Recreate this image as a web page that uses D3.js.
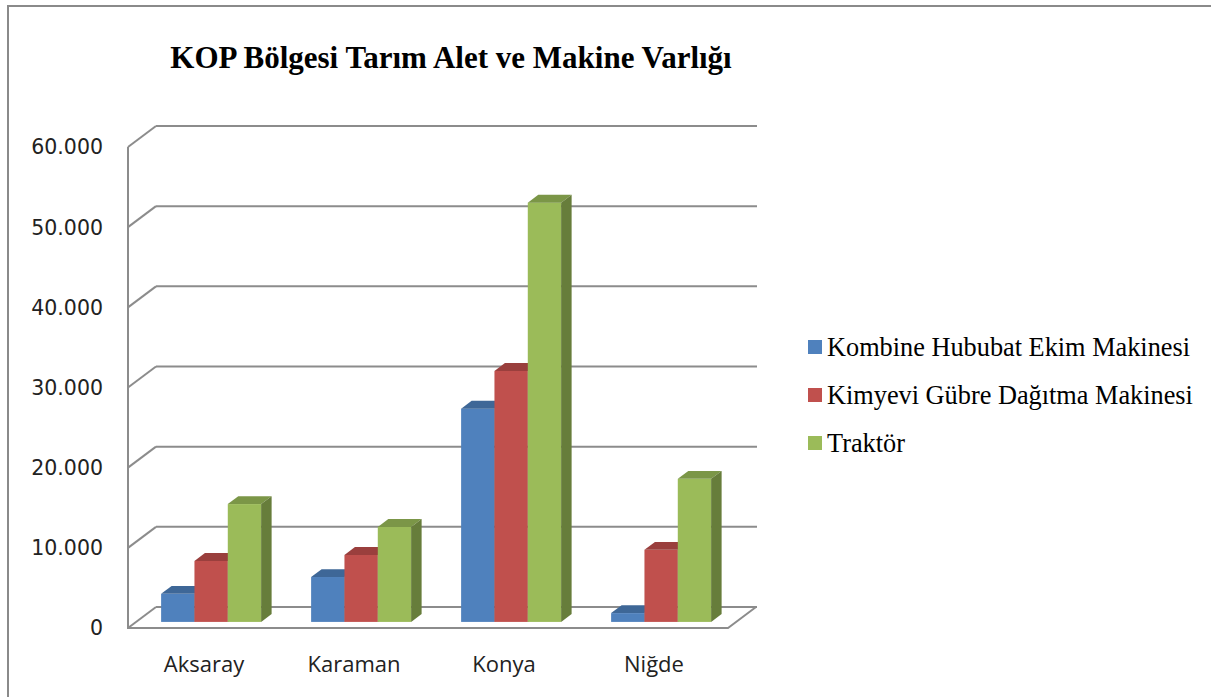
<!DOCTYPE html>
<html><head><meta charset="utf-8">
<script src="https://cdn.jsdelivr.net/npm/d3@7/dist/d3.min.js"></script>
<style>html,body{margin:0;padding:0;background:#fff;}svg{display:block;}</style>
</head><body>
<script>
const categories = ["Aksaray", "Karaman", "Konya", "Niğde"];
const seriesNames = ["Kombine Hububat Ekim Makinesi", "Kimyevi Gübre Dağıtma Makinesi", "Traktör"];
const kombine = [3500, 5600, 26600, 1100];
const kimyevi = [7600, 8350, 31300, 9000];
const traktor = [14700, 11850, 52300, 17850];
const yTicks = [0, 10000, 20000, 30000, 40000, 50000, 60000];
const title = "KOP Bölgesi Tarım Alet ve Makine Varlığı";

const series = [kombine, kimyevi, traktor];
const front = ["#4F81BD", "#C0504D", "#9BBB59"];
const topC = ["#3E6797", "#9A3F3D", "#7B9647"];
const sideC = ["#365a85", "#853634", "#677D3B"];

const W = 1211, H = 697;
const svg = d3.select("body").append("svg").attr("width", W).attr("height", H);

svg.append("path").attr("d", `M8,${H+2} L8,6 L${W+2},6`).attr("fill","none").attr("stroke","#8a8a8a").attr("stroke-width",2);

svg.append("text").attr("x", 451).attr("y", 68).attr("text-anchor","middle")
  .attr("font-family","'Liberation Serif', 'Times New Roman', serif").attr("font-weight","bold")
  .attr("font-size", 31).attr("fill","#000").text(title);

const x0 = 128, x1 = 728;
const depth = [28, -21];
const y = d3.scaleLinear().domain([0, 60000]).range([628, 147]);
const xb = d3.scaleBand().domain(categories).range([x0, x1]).paddingInner(1/3).paddingOuter(1/6);
const xs = d3.scaleBand().domain(d3.range(series.length)).range([0, xb.bandwidth()]);

const grid = "#8c8c8c";
const g = svg.append("g");
yTicks.forEach(t => {
  const yy = y(t);
  g.append("line").attr("x1", x0).attr("y1", yy).attr("x2", x0+depth[0]).attr("y2", yy+depth[1])
    .attr("stroke", grid).attr("stroke-width", 2);
  g.append("line").attr("x1", x0+depth[0]).attr("y1", yy+depth[1]).attr("x2", x1+depth[0]+1).attr("y2", yy+depth[1])
    .attr("stroke", grid).attr("stroke-width", 2);
});
g.append("line").attr("x1", x0).attr("y1", y(60000)).attr("x2", x0).attr("y2", y(0)+1).attr("stroke", grid).attr("stroke-width", 2);
g.append("path").attr("d", `M${x0},${y(0)} L${x1},${y(0)} L${x1+depth[0]},${y(0)+depth[1]}`)
  .attr("fill","none").attr("stroke", grid).attr("stroke-width", 2);

svg.append("g").selectAll("text").data(yTicks).join("text")
  .attr("x", 103).attr("y", d => y(d)).attr("dy", "0.36em").attr("text-anchor","end")
  .attr("font-family", "'DejaVu Sans', sans-serif").attr("font-size", 20.5).attr("fill","#222")
  .text(d => d3.format(",")(d).replace(/,/g, "."));

svg.append("g").selectAll("text").data(categories).join("text")
  .attr("x", d => xb(d) + xb.bandwidth()/2 + 1).attr("y", 672).attr("text-anchor","middle")
  .attr("font-family", "'Open Sans', sans-serif").attr("font-size", 22).attr("fill","#222").text(d => d);

const f1 = 0.29, f2 = 0.665;
const off = [depth[0]*f1, depth[1]*f1];
const dd = [depth[0]*(f2-f1), depth[1]*(f2-f1)];
const bars = svg.append("g");
categories.forEach((c, i) => {
  series.forEach((s, k) => {
    const v = s[i];
    const xl = xb(c) + xs(k) + off[0];
    const xr = xl + xs.bandwidth();
    const yb = y(0) + off[1];
    const yt = y(v) + off[1];
    bars.append("rect").attr("x", xl).attr("y", yt).attr("width", xr - xl).attr("height", yb - yt).attr("fill", front[k]);
    bars.append("path").attr("d", `M${xl},${yt} L${xl+dd[0]},${yt+dd[1]} L${xr+dd[0]},${yt+dd[1]} L${xr},${yt} Z`).attr("fill", topC[k]);
    bars.append("path").attr("d", `M${xr},${yt} L${xr+dd[0]},${yt+dd[1]} L${xr+dd[0]},${yb+dd[1]} L${xr},${yb} Z`).attr("fill", sideC[k]);
  });
});

const leg = svg.append("g");
const ly = [347, 395, 443];
seriesNames.forEach((n, k) => {
  leg.append("rect").attr("x", 808).attr("y", ly[k]-7).attr("width", 14).attr("height", 14).attr("fill", front[k]);
  leg.append("text").attr("x", 827).attr("y", ly[k]).attr("dy", "0.35em")
    .attr("font-family","'Liberation Serif', 'Times New Roman', serif").attr("font-size", 26.3).attr("fill","#000").text(n);
});
</script>
</body></html>
